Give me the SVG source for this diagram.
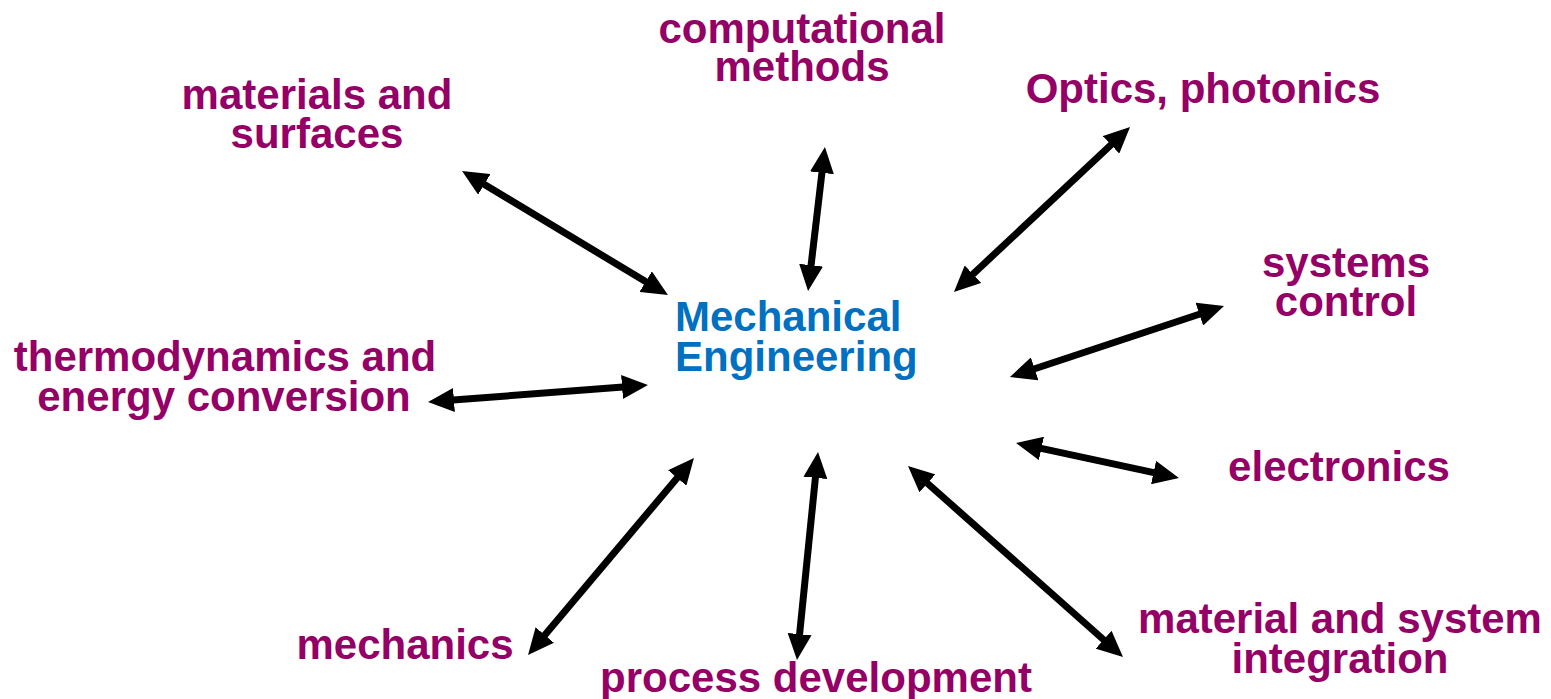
<svg xmlns="http://www.w3.org/2000/svg" width="1551" height="699" viewBox="0 0 1551 699">
  <style>
    .topic { font-family: "Liberation Sans", Arial, sans-serif; font-weight: bold; font-size: 42px; fill: #940066; text-anchor: middle; }
    .core { font-family: "Liberation Sans", Arial, sans-serif; font-weight: bold; font-size: 42px; fill: #0070C0; text-anchor: start; }
    .link { stroke: #000; stroke-width: 7; fill: none; marker-start: url(#head); marker-end: url(#head); }
  </style>
  <defs>
    <marker id="head" viewBox="0 0 26 24" markerWidth="26" markerHeight="24" markerUnits="userSpaceOnUse" refX="11" refY="12" orient="auto-start-reverse">
      <path d="M0,0 L26,12 L0,24 z" fill="#000"/>
    </marker>
  </defs>
  <rect width="1551" height="699" fill="#fff"/>

  <!-- double-headed links between the core discipline and each field -->
  <g id="connectors">
    <line class="link" x1="474.9" y1="178.7" x2="655.1" y2="287.3"/>
    <line class="link" x1="823.2" y1="161.9" x2="809.8" y2="276.1"/>
    <line class="link" x1="1119.1" y1="137.3" x2="964.9" y2="281.7"/>
    <line class="link" x1="1209.8" y1="310.7" x2="1024.2" y2="372.3"/>
    <line class="link" x1="1030.7" y1="446.1" x2="1164.3" y2="474.9"/>
    <line class="link" x1="919.2" y1="476" x2="1111.8" y2="647"/>
    <line class="link" x1="816.5" y1="466.9" x2="798.5" y2="645.1"/>
    <line class="link" x1="684.3" y1="469.5" x2="537.7" y2="643.5"/>
    <line class="link" x1="443" y1="400.8" x2="633" y2="386.2"/>
  </g>

  <g id="mechanical-engineering">
    <text class="core" x="675" y="331">Mechanical</text>
    <text class="core" x="675" y="371">Engineering</text>
  </g>
  <g id="computational-methods">
    <text class="topic" x="802" y="43">computational</text>
    <text class="topic" x="802" y="81">methods</text>
  </g>
  <g id="materials-surfaces">
    <text class="topic" x="317" y="109">materials and</text>
    <text class="topic" x="317" y="148">surfaces</text>
  </g>
  <g id="optics-photonics">
    <text class="topic" x="1203" y="103">Optics, photonics</text>
  </g>
  <g id="systems-control">
    <text class="topic" x="1346" y="277">systems</text>
    <text class="topic" x="1346" y="316">control</text>
  </g>
  <g id="thermodynamics">
    <text class="topic" x="225" y="371">thermodynamics and</text>
    <text class="topic" x="224" y="411">energy conversion</text>
  </g>
  <g id="electronics">
    <text class="topic" x="1339" y="481">electronics</text>
  </g>
  <g id="integration">
    <text class="topic" x="1340" y="633">material and system</text>
    <text class="topic" x="1340" y="673">integration</text>
  </g>
  <g id="mechanics">
    <text class="topic" x="405" y="659">mechanics</text>
  </g>
  <g id="process-development">
    <text class="topic" x="816" y="692">process development</text>
  </g>
</svg>
